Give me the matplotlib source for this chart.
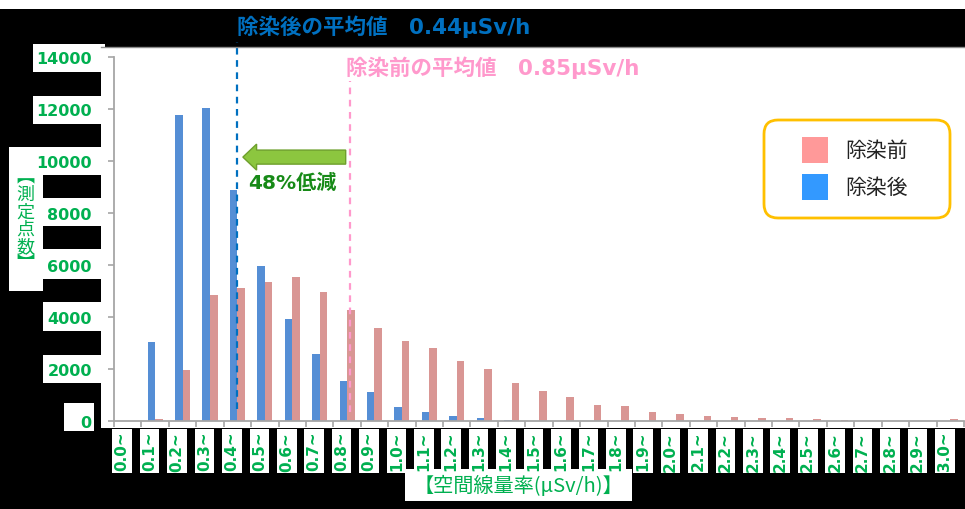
import matplotlib.pyplot as plt
import matplotlib.patches as mpatches
import matplotlib.transforms as mtransforms

plt.rcParams['font.family'] = ['DejaVu Sans', 'Noto Sans CJK JP']

W, H = 965, 510
GREEN = '#00B050'

# 空間線量率の区分 (μSv/h) と測定点数
categories = ['0.0~', '0.1~', '0.2~', '0.3~', '0.4~', '0.5~', '0.6~', '0.7~',
              '0.8~', '0.9~', '1.0~', '1.1~', '1.2~', '1.3~', '1.4~', '1.5~',
              '1.6~', '1.7~', '1.8~', '1.9~', '2.0~', '2.1~', '2.2~', '2.3~',
              '2.4~', '2.5~', '2.6~', '2.7~', '2.8~', '2.9~', '3.0~']
before = [0, 70, 1980, 4850, 5100, 5350, 5550, 4980, 4260, 3580, 3070, 2800,
          2310, 1990, 1460, 1140, 910, 630, 590, 350, 270, 190, 150, 110, 100,
          60, 20, 0, 0, 0, 60]
after = [0, 3040, 11770, 12030, 8900, 5950, 3910, 2590, 1550, 1100, 550, 360,
         190, 100, 30, 0, 0, 0, 0, 0, 0, 0, 0, 0, 0, 0, 0, 0, 0, 0, 0]
mean_before = 0.85
mean_after = 0.44
reduction = 48
yticks = [0, 2000, 4000, 6000, 8000, 10000, 12000, 14000]

fig = plt.figure(figsize=(W / 100, H / 100), dpi=100, facecolor='black')
px = mtransforms.IdentityTransform()


def box(x0, y0, x1, y1, color='white', z=0):
    # rectangle in pixel coords measured from the top-left corner
    fig.add_artist(mpatches.Rectangle((x0, H - y1), x1 - x0, y1 - y0,
                                      facecolor=color, edgecolor='none',
                                      transform=px, zorder=z))


# white panels behind the plot and the labels
box(0, 0, W, 10)
box(101, 48, W, 429)
box(33, 45, 105, 73)
box(33, 97, 105, 125)
box(9, 148, 101, 176)
box(9, 148, 43, 292)
box(43, 199, 101, 227)
box(43, 250, 101, 280)
box(43, 303, 101, 332)
box(43, 356, 101, 384)
box(64, 404, 94, 432)
box(405, 470, 632, 502)
fig.add_artist(plt.Line2D([101, W], [H - 48, H - 48], color='#8C8C8C', lw=1,
                          transform=px))

ax = fig.add_axes([114 / W, 88 / H, 850 / W, 364 / H])
ax.set_facecolor('white')
ax.set_xlim(0, len(categories))
ax.set_ylim(0, 14000)

idx = range(len(categories))
bw = 0.275
ax.bar([i + 0.5 - bw / 2 for i in idx], after, width=bw, color='#558ED5', zorder=2)
ax.bar([i + 0.5 + bw / 2 for i in idx], before, width=bw, color='#D99694', zorder=2)

for side in ['top', 'right']:
    ax.spines[side].set_visible(False)
for side in ['left', 'bottom']:
    ax.spines[side].set_color('#A6A6A6')
    ax.spines[side].set_linewidth(1.3)

ax.set_yticks(yticks)
ax.set_yticklabels([str(v) for v in yticks], fontsize=11.5, fontweight='bold',
                   color=GREEN)
ax.set_xticks(range(len(categories) + 1))
ax.set_xticklabels([])
ax.tick_params(axis='both', colors='#A6A6A6', length=4, width=1.2)
ax.tick_params(axis='y', labelcolor=GREEN, pad=12)

# rotated class labels under the axis
lab_tr = mtransforms.blended_transform_factory(ax.transData, ax.transAxes)
for i, c in enumerate(categories):
    ax.text(i + 0.3, -0.027, c, rotation=90, ha='center', va='top',
            fontsize=11, fontweight='bold', color=GREEN, transform=lab_tr,
            bbox=dict(boxstyle='square,pad=0.15', facecolor='white',
                      edgecolor='none'), clip_on=False)

fig.text(518, H - 486, '【空間線量率(μSv/h)】', ha='center', va='center',
         fontsize=14.5, color=GREEN, transform=px,
         family=['Noto Sans CJK JP', 'DejaVu Sans'])
fig.text(25, H - 221, '︻\n測\n定\n点\n数\n︼', ha='center', va='center',
         fontsize=13, color=GREEN, linespacing=0.95, transform=px,
         family=['Noto Sans CJK JP', 'DejaVu Sans'])

# mean lines
x_after = mean_after * 10 + 0.1
x_before = mean_before * 10 + 0.1
ax.plot([x_after, x_after], [460, 14580], color='#0070C0', lw=1.6,
        ls=(0, (3, 2.5)), clip_on=False, zorder=3)
ax.plot([x_before, x_before], [350, 13080], color='#FF99CC', lw=1.6,
        ls=(0, (3, 2.5)), clip_on=False, zorder=3)

title_tr = mtransforms.blended_transform_factory(ax.transData, px)
ax.text(x_after, H - 27, f'除染後の平均値　{mean_after:.2f}μSv/h', ha='left',
        va='center', fontsize=15.5, fontweight='bold', color='#0070C0',
        transform=title_tr, clip_on=False)
ax.text(x_before - 0.15, H - 68, f'除染前の平均値　{mean_before:.2f}μSv/h',
        ha='left', va='center', fontsize=15.5, fontweight='bold',
        color='#FF99CC', transform=title_tr, clip_on=False)

# reduction arrow
ax.add_patch(mpatches.FancyArrow(x_before - 0.15, 10150,
                                 (x_after + 0.2) - (x_before - 0.15), 0,
                                 width=540, head_width=1000, head_length=0.5,
                                 length_includes_head=True,
                                 facecolor='#8CC63F', edgecolor='#6E9F2C',
                                 lw=1, zorder=4))
ax.text(x_after + 0.4, 9190, f'{reduction}%低減', ha='left', va='center',
        fontsize=14.5, fontweight='bold', color='#178A17', zorder=4)

# legend
fig.add_artist(mpatches.FancyBboxPatch((764, H - 219), 186, 98,
                                       boxstyle='round,pad=0,rounding_size=14',
                                       facecolor='white', edgecolor='#FFC000',
                                       lw=2, transform=px, zorder=5))
for (label, color, yc) in [('除染前', '#FF9999', 151), ('除染後', '#3399FF', 188)]:
    fig.add_artist(mpatches.Rectangle((802, H - yc - 13), 26, 26,
                                      facecolor=color, edgecolor='none',
                                      transform=px, zorder=6))
    fig.text(845, H - yc, label, ha='left', va='center', fontsize=15,
             color='#222222', transform=px, zorder=6,
             family=['Noto Sans CJK JP', 'DejaVu Sans'])

fig.savefig('out.png', dpi=100, facecolor='black')
